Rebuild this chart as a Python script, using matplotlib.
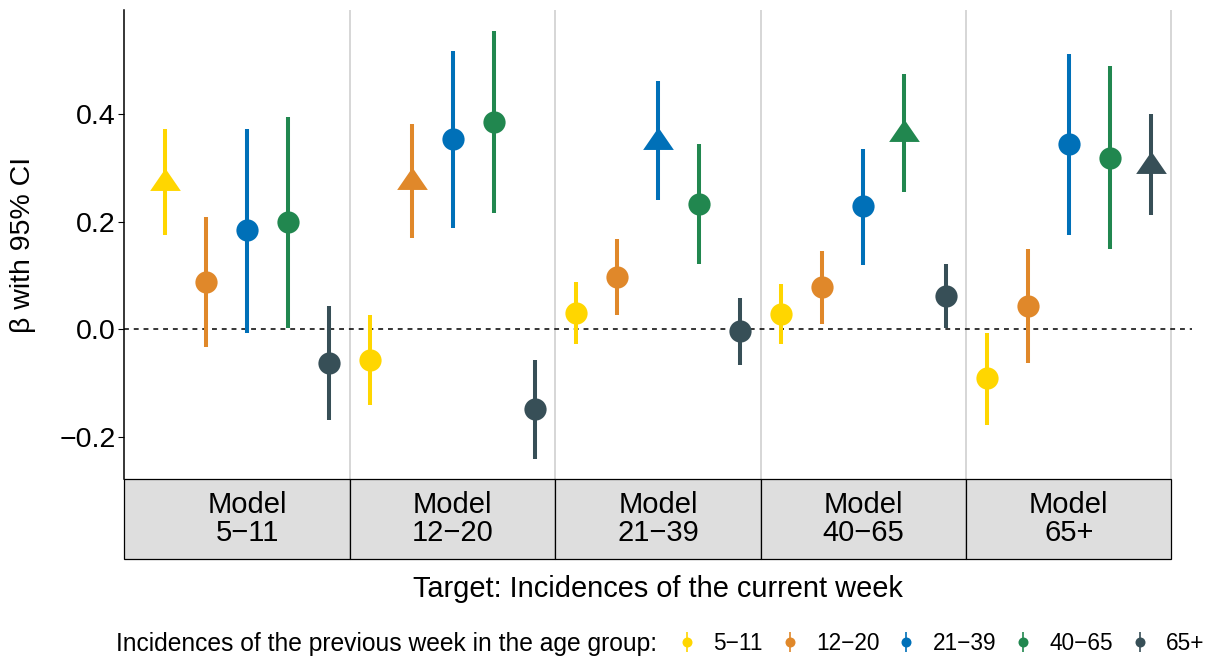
import numpy as np
import matplotlib.pyplot as plt
from matplotlib.path import Path
from matplotlib.patches import Rectangle
from matplotlib.lines import Line2D
from matplotlib.legend_handler import HandlerTuple

plt.rcParams['font.family'] = ['Liberation Sans', 'DejaVu Sans']

# models (target age group) and predictors (previous-week age group)
models = ['5\u221211', '12\u221220', '21\u221239', '40\u221265', '65+']
groups = ['5\u221211', '12\u221220', '21\u221239', '40\u221265', '65+']
colors = ['#FFD600', '#E0882A', '#0070B8', '#21874F', '#374F57']

# estimates per predictor group, one value per model
est_5_11 = [0.271, -0.057, 0.029, 0.028, -0.092]
est_12_20 = [0.087, 0.273, 0.097, 0.078, 0.043]
est_21_39 = [0.184, 0.353, 0.348, 0.228, 0.344]
est_40_65 = [0.200, 0.385, 0.233, 0.362, 0.319]
est_65p = [-0.063, -0.149, -0.004, 0.061, 0.303]

lo_5_11 = [0.175, -0.141, -0.028, -0.027, -0.178]
lo_12_20 = [-0.034, 0.169, 0.026, 0.009, -0.063]
lo_21_39 = [-0.007, 0.188, 0.240, 0.120, 0.175]
lo_40_65 = [0.001, 0.216, 0.121, 0.255, 0.149]
lo_65p = [-0.169, -0.241, -0.066, 0.001, 0.212]

hi_5_11 = [0.373, 0.027, 0.087, 0.084, -0.007]
hi_12_20 = [0.208, 0.381, 0.167, 0.145, 0.148]
hi_21_39 = [0.373, 0.518, 0.461, 0.335, 0.511]
hi_40_65 = [0.395, 0.554, 0.345, 0.474, 0.490]
hi_65p = [0.042, -0.057, 0.058, 0.121, 0.400]

est = [est_5_11, est_12_20, est_21_39, est_40_65, est_65p]
lo = [lo_5_11, lo_12_20, lo_21_39, lo_40_65, lo_65p]
hi = [hi_5_11, hi_12_20, hi_21_39, hi_40_65, hi_65p]

# R-style triangle, centred on its centroid
tri = Path([(0, 1), (-1.03, -0.5), (1.03, -0.5), (0, 1)],
           [Path.MOVETO, Path.LINETO, Path.LINETO, Path.CLOSEPOLY])

W, H = 1210, 658
fig = plt.figure(figsize=(12.1, 6.58), dpi=100)

def box(l, t, r, b):
    return [l / W, 1 - b / H, (r - l) / W, (b - t) / H]

ax = fig.add_axes(box(124, 10, 1192, 479))
axs = fig.add_axes(box(124, 479, 1192, 559), sharex=ax)

x = np.arange(len(models))
offsets = (np.arange(len(groups)) - 2) * 0.2
xlim = (-0.6, 4.6)

for b in x + 0.5:
    ax.axvline(b, color='#CCCCCC', lw=1.1, zorder=1)
ax.axhline(0, color='black', lw=1.1, linestyle=(0, (3.2, 3.2)), zorder=2)

for k in range(len(groups)):
    xs = x + offsets[k]
    ax.vlines(xs, lo[k], hi[k], color=colors[k], lw=2.9, capstyle='butt', zorder=3)
    for i in range(len(models)):
        if i == k:
            ax.plot(xs[i], est[k][i], marker=tri, ms=22.1, color=colors[k], mew=0, zorder=4)
        else:
            ax.plot(xs[i], est[k][i], marker='o', ms=16, color=colors[k], mew=0, zorder=4)

ax.set_xlim(*xlim)
ax.set_ylim(-0.279, 0.5935)
ax.set_xticks([])
ax.set_yticks([-0.2, 0.0, 0.2, 0.4])
ax.yaxis.set_major_formatter(plt.FuncFormatter(lambda v, p: f'{v:.1f}'.replace('-', '\u2212')))
ax.tick_params(axis='y', length=4.3, width=0.8, pad=1.5, labelsize=20.5)
for s in ['top', 'right', 'bottom']:
    ax.spines[s].set_visible(False)
ax.spines['left'].set_linewidth(1.1)

# strip boxes under the panel
edges = [xlim[0]] + list(x + 0.5)
axs.set_ylim(0, 1)
axs.axis('off')
for i in range(len(models)):
    axs.add_patch(Rectangle((edges[i], 0), edges[i + 1] - edges[i], 1,
                            facecolor='#DEDEDE', edgecolor='black', lw=0.9, clip_on=False))
    axs.text(x[i], 0.5, 'Model\n' + models[i], ha='center', va='center',
             fontsize=21, linespacing=1.0)

fig.text(23 / W, 1 - 244.5 / H, '\u03b2 with 95% CI', rotation=90, ha='center', va='center', fontsize=20.5)
fig.text(658 / W, 1 - 597 / H, 'Target: Incidences of the current week', ha='center', va='baseline', fontsize=20.9)

fig.text(116 / W, 1 - 650.7 / H, 'Incidences of the previous week in the age group:',
         ha='left', va='baseline', fontsize=17.7)
handles = []
for c in colors:
    handles.append((Line2D([], [], marker='|', ms=14.4, mew=1.2, color=c, linestyle='None'),
                    Line2D([], [], marker='o', ms=7.2, mew=0, color=c, linestyle='None')))
fig.legend(handles, groups, loc='center left', bbox_to_anchor=(678 / W, 1 - 643 / H),
           ncol=5, frameon=False, fontsize=16.3, handlelength=0.8, handletextpad=0.75,
           columnspacing=0.8, borderpad=0, borderaxespad=0,
           handler_map={tuple: HandlerTuple(ndivide=1, pad=0)})

fig.savefig('out.png', dpi=100)
